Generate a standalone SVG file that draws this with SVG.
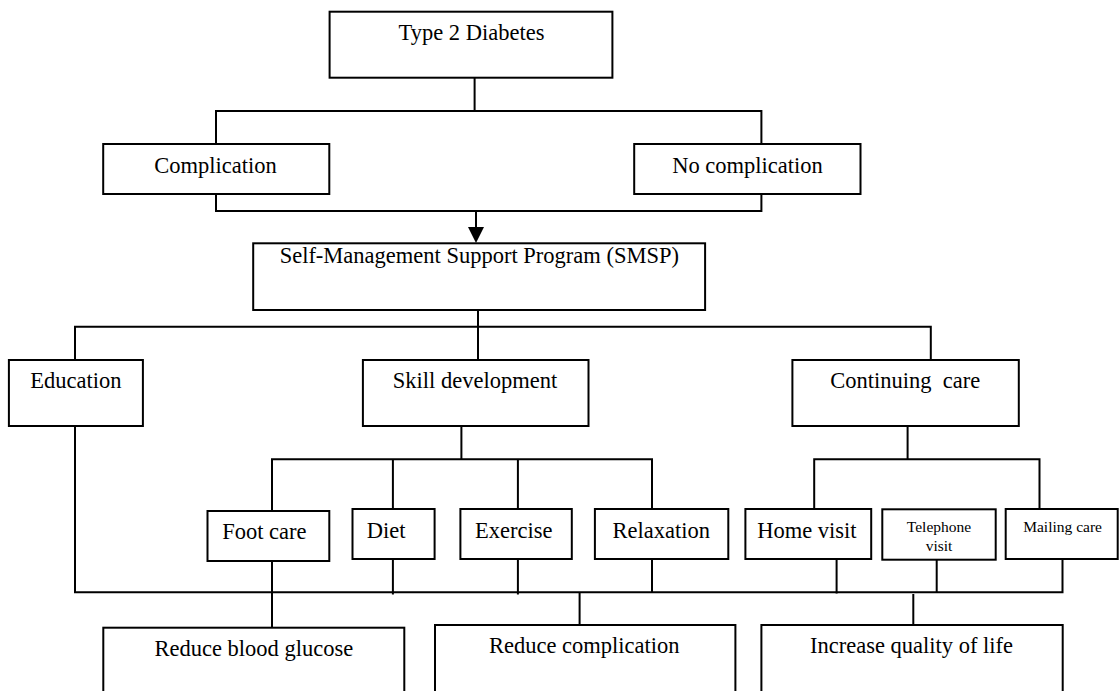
<svg xmlns="http://www.w3.org/2000/svg" width="1119" height="691" viewBox="0 0 1119 691">
<style>
.box{fill:#fff;stroke:#000;stroke-width:2}
.ln{fill:none;stroke:#000;stroke-width:2}
text{font-family:"Liberation Serif","Times New Roman",serif;font-size:22.5px;fill:#000;text-anchor:middle}
text.sm{font-size:15.5px}
</style>
<rect width="1119" height="691" fill="#fff"/>
<g id="connectors">
<polyline class="ln" points="474.6,78 474.6,111"/>
<polyline class="ln" points="216,144 216,111 761.4,111 761.4,144"/>
<polyline class="ln" points="216,194 216,211 761.4,211 761.4,194"/>
<line class="ln" x1="476" y1="211" x2="476" y2="228"/>
<polygon points="468,227 484,227 476,243" fill="#000"/>
<line class="ln" x1="478" y1="310" x2="478" y2="360"/>
<polyline class="ln" points="75,360 75,326.7 930.8,326.7 930.8,360"/>
<line class="ln" x1="461.4" y1="426" x2="461.4" y2="459.3"/>
<polyline class="ln" points="272,511 272,459.3 652,459.3 652,509"/>
<line class="ln" x1="392.9" y1="459.3" x2="392.9" y2="509"/>
<line class="ln" x1="517.9" y1="459.3" x2="517.9" y2="509"/>
<line class="ln" x1="907.6" y1="426" x2="907.6" y2="459.3"/>
<polyline class="ln" points="814.2,509 814.2,459.3 1039.5,459.3 1039.5,509"/>
<polyline class="ln" points="75,426 75,592.3 1062.5,592.3 1062.5,559"/>
<line class="ln" x1="272" y1="561" x2="272" y2="627.5"/>
<line class="ln" x1="392.9" y1="559" x2="392.9" y2="594.5"/>
<line class="ln" x1="517.9" y1="559" x2="517.9" y2="594.5"/>
<line class="ln" x1="652" y1="559" x2="652" y2="592.3"/>
<line class="ln" x1="836.6" y1="559" x2="836.6" y2="593.5"/>
<line class="ln" x1="936.7" y1="559.7" x2="936.7" y2="592.3"/>
<line class="ln" x1="579.6" y1="592.3" x2="579.6" y2="625"/>
<line class="ln" x1="913.3" y1="594" x2="913.3" y2="626.7"/>
</g>
<g id="n-type2"><rect class="box" x="329.6" y="11.7" width="282.8" height="66"/><text x="471.5" y="40">Type 2 Diabetes</text></g>
<g id="n-complication"><rect class="box" x="103.2" y="144" width="226.1" height="50"/><text x="215.6" y="173">Complication</text></g>
<g id="n-nocomplication"><rect class="box" x="634.2" y="144" width="226.3" height="50"/><text x="747.5" y="173">No complication</text></g>
<g id="n-smsp"><rect class="box" x="253.2" y="243.3" width="451.9" height="66.7"/><text x="479.3" y="263">Self-Management Support Program (SMSP)</text></g>
<g id="n-education"><rect class="box" x="8.9" y="360" width="134" height="66"/><text x="75.9" y="388">Education</text></g>
<g id="n-skill"><rect class="box" x="362.9" y="360" width="225.6" height="66"/><text x="475" y="388">Skill development</text></g>
<g id="n-continuing"><rect class="box" x="792.4" y="360" width="226.4" height="66"/><text x="905.3" y="388" xml:space="preserve">Continuing&#160; care</text></g>
<g id="n-footcare"><rect class="box" x="207.5" y="511" width="121.8" height="50"/><text x="264.3" y="539">Foot care</text></g>
<g id="n-diet"><rect class="box" x="352.5" y="509" width="82.1" height="50"/><text x="386.2" y="538">Diet</text></g>
<g id="n-exercise"><rect class="box" x="460.4" y="509" width="111.4" height="50"/><text x="513.7" y="538">Exercise</text></g>
<g id="n-relaxation"><rect class="box" x="594.9" y="509" width="133.4" height="50"/><text x="661.2" y="538">Relaxation</text></g>
<g id="n-homevisit"><rect class="box" x="745.4" y="509" width="125.8" height="50"/><text x="806.9" y="538">Home visit</text></g>
<g id="n-telephone"><rect class="box" x="882.3" y="509.3" width="113.4" height="50.4"/><text class="sm" x="939" y="532">Telephone</text><text class="sm" x="939" y="551">visit</text></g>
<g id="n-mailing"><rect class="box" x="1005.7" y="509" width="112" height="50"/><text class="sm" x="1062.6" y="532">Mailing care</text></g>
<g id="n-glucose"><rect class="box" x="103.3" y="627.7" width="301" height="80"/><text x="253.8" y="656">Reduce blood glucose</text></g>
<g id="n-reducecomp"><rect class="box" x="435" y="625" width="300.4" height="80"/><text x="584.3" y="653">Reduce complication</text></g>
<g id="n-quality"><rect class="box" x="761.4" y="625" width="301.3" height="80"/><text x="911.5" y="653">Increase quality of life</text></g>
</svg>
